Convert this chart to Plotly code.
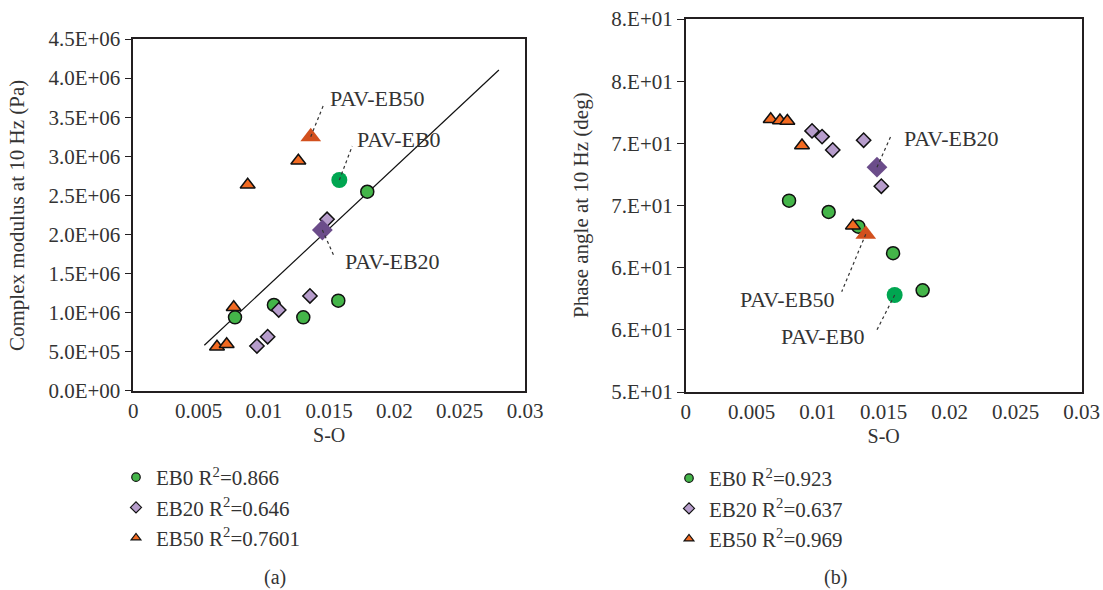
import plotly.graph_objects as go

# ---------------- data: panel (a) complex modulus ----------------
eb0_x_a = [0.00779, 0.01077, 0.01302, 0.01570, 0.01792]
eb0_y_a = [0.939e6, 1.097e6, 0.939e6, 1.152e6, 2.546e6]
eb20_x_a = [0.00947, 0.01029, 0.01114, 0.01353, 0.01484]
eb20_y_a = [0.572e6, 0.691e6, 1.033e6, 1.212e6, 2.193e6]
eb50_x_a = [0.00641, 0.00715, 0.00769, 0.00876, 0.01264]
eb50_y_a = [0.563e6, 0.594e6, 1.067e6, 2.636e6, 2.943e6]
pav_x_a = {"EB0": 0.01578, "EB20": 0.01448, "EB50": 0.01359}
pav_y_a = {"EB0": 2.696e6, "EB20": 2.056e6, "EB50": 3.25e6}
trend_x_a = [0.00544, 0.0280]
trend_y_a = [0.581e6, 4.103e6]

# ---------------- data: panel (b) phase angle ----------------
eb0_x_b = [0.00783, 0.01083, 0.01308, 0.01571, 0.01795]
eb0_y_b = [65.39, 64.48, 63.30, 61.16, 58.18]
eb20_x_b = [0.00957, 0.01033, 0.01114, 0.01348, 0.01482]
eb20_y_b = [71.00, 70.54, 69.47, 70.25, 66.55]
eb50_x_b = [0.00644, 0.00714, 0.00770, 0.00881, 0.01267]
eb50_y_b = [71.94, 71.83, 71.80, 69.82, 63.38]
pav_x_b = {"EB0": 0.01583, "EB20": 0.01449, "EB50": 0.01364}
pav_y_b = {"EB0": 57.80, "EB20": 68.08, "EB50": 62.69}

x_ticks = [0, 0.005, 0.01, 0.015, 0.02, 0.025, 0.03]
x_ticktext = ["0", "0.005", "0.01", "0.015", "0.02", "0.025", "0.03"]
ya_ticks = [0, 0.5e6, 1.0e6, 1.5e6, 2.0e6, 2.5e6, 3.0e6, 3.5e6, 4.0e6, 4.5e6]
ya_ticktext = ["0.0E+00", "5.0E+05", "1.0E+06", "1.5E+06", "2.0E+06",
               "2.5E+06", "3.0E+06", "3.5E+06", "4.0E+06", "4.5E+06"]
yb_ticks = [50, 55, 60, 65, 70, 75, 80]
yb_ticktext = ["5.E+01", "6.E+01", "6.E+01", "7.E+01", "7.E+01", "8.E+01", "8.E+01"]

legend_a = ["EB0 R<sup>2</sup>=0.866", "EB20 R<sup>2</sup>=0.646", "EB50 R<sup>2</sup>=0.7601"]
legend_b = ["EB0 R<sup>2</sup>=0.923", "EB20 R<sup>2</sup>=0.637", "EB50 R<sup>2</sup>=0.969"]

# ---------------- layout helpers (page body margin removed in post_script) ----------------
W, H = 1103, 590

def PX(px):
    return px / W

def PY(py):
    return 1 - py / H

# ---------------- styles ----------------
FONT = "Liberation Serif"
TXT = "#333333"
AX = "#231f20"
FS = 21
C_GREEN = "#44b549"
C_LILAC = "#b79dcc"
C_ORANGE = "#f26a21"
PAV_COL = {"EB0": "#00a651", "EB20": "#6b4c8a", "EB50": "#d2501e"}
PAV_SYM = {"EB0": "circle", "EB20": "diamond", "EB50": "triangle-up"}
PAV_SIZE = {"EB0": 16, "EB20": 16, "EB50": 18}
BASE = [("circle", C_GREEN, 13), ("diamond", C_LILAC, 11), ("triangle-up", C_ORANGE, 13)]

fig = go.Figure()

def add_panel(xs, ys, pav_x, pav_y, xa, ya, names, legend):
    for (sym, col, sz), x, y in zip(BASE, xs, ys):
        fig.add_trace(go.Scatter(x=x, y=y, mode="markers", xaxis=xa, yaxis=ya,
                                 showlegend=False,
                                 marker=dict(symbol=sym, color=col, size=sz,
                                             line=dict(color="#111111", width=1.5))))
    for key in ["EB0", "EB20", "EB50"]:
        fig.add_trace(go.Scatter(x=[pav_x[key]], y=[pav_y[key]], mode="markers",
                                 xaxis=xa, yaxis=ya, showlegend=False,
                                 marker=dict(symbol=PAV_SYM[key], color=PAV_COL[key],
                                             size=PAV_SIZE[key], line=dict(width=0))))
    for (sym, col, sz), nm in zip(BASE, names):
        fig.add_trace(go.Scatter(x=[None], y=[None], mode="markers", xaxis=xa, yaxis=ya,
                                 name=nm, legend=legend, showlegend=True,
                                 marker=dict(symbol=sym, color=col, size=8.5,
                                             line=dict(color="#111111", width=1.2))))

# trend line (a)
fig.add_trace(go.Scatter(x=trend_x_a, y=trend_y_a, mode="lines", xaxis="x", yaxis="y",
                         showlegend=False, line=dict(color="#111111", width=1.2)))

add_panel([eb0_x_a, eb20_x_a, eb50_x_a], [eb0_y_a, eb20_y_a, eb50_y_a],
          pav_x_a, pav_y_a, "x", "y", legend_a, "legend")
add_panel([eb0_x_b, eb20_x_b, eb50_x_b], [eb0_y_b, eb20_y_b, eb50_y_b],
          pav_x_b, pav_y_b, "x2", "y2", legend_b, "legend2")

# leader lines + labels (label anchor positions in data units)
labels_a = [  # key, leader end x, y, text x, y, anchor
    ("EB50", 0.01460, 3.668e6, 0.01491, 3.745e6, "left"),
    ("EB0", 0.01677, 3.131e6, 0.01698, 3.22e6, "left"),
    ("EB20", 0.01540, 1.714e6, 0.01604, 1.659e6, "left"),
]
labels_b = [
    ("EB20", 0.01553, 70.54, 0.01636, 70.41, "left"),
    ("EB50", 0.01182, 58.07, 0.01146, 57.46, "right"),
    ("EB0", 0.01442, 54.85, 0.01373, 54.45, "right"),
]
shapes = []
annotations = []
for labels, px, py, xr, yr in [(labels_a, pav_x_a, pav_y_a, "x", "y"),
                               (labels_b, pav_x_b, pav_y_b, "x2", "y2")]:
    for key, lx, ly, tx, ty, anc in labels:
        shapes.append(dict(type="line", xref=xr, yref=yr, x0=px[key], y0=py[key],
                           x1=lx, y1=ly, line=dict(color="#333333", width=1.2, dash="dot")))
        annotations.append(dict(xref=xr, yref=yr, x=tx, y=ty, text="PAV-" + key,
                                showarrow=False, xanchor=anc, yanchor="middle",
                                font=dict(family=FONT, size=22, color=TXT)))

# captions and y-axis titles
annotations += [
    dict(xref="paper", yref="paper", x=PX(275), y=PY(577), text="(a)",
         showarrow=False, xanchor="center", yanchor="middle",
         font=dict(family=FONT, size=20, color=TXT)),
    dict(xref="paper", yref="paper", x=PX(835), y=PY(577), text="(b)",
         showarrow=False, xanchor="center", yanchor="middle",
         font=dict(family=FONT, size=20, color=TXT)),
    dict(xref="paper", yref="paper", x=PX(17), y=PY(216),
         text="Complex modulus at 10 Hz (Pa)", textangle=-90, showarrow=False,
         xanchor="center", yanchor="middle", font=dict(family=FONT, size=21, color=TXT)),
    dict(xref="paper", yref="paper", x=PX(581), y=PY(205),
         text="Phase angle at 10 Hz (deg)", textangle=-90, showarrow=False,
         xanchor="center", yanchor="middle", font=dict(family=FONT, size=21, color=TXT)),
]

axis_common = dict(showline=True, linecolor=AX, linewidth=1.5, mirror=True,
                   showgrid=False, zeroline=False,
                   tickfont=dict(family=FONT, size=FS, color=TXT),
                   title_font=dict(family=FONT, size=20, color=TXT))

fig.update_layout(
    width=W, height=H,
    margin=dict(l=0, r=0, t=0, b=0, autoexpand=False),
    paper_bgcolor="white", plot_bgcolor="white",
    font=dict(family=FONT, size=FS, color=TXT),
    xaxis=dict(domain=[PX(133.3), PX(525)], range=[0, 0.03], tickvals=x_ticks,
               ticktext=x_ticktext, ticks="", anchor="y",
               title=dict(text="S-O", standoff=6), **axis_common),
    yaxis=dict(domain=[PY(390.7), PY(39)], range=[0, 4.5e6], tickvals=ya_ticks,
               ticktext=ya_ticktext, ticks="outside", ticklen=7, tickcolor=AX, anchor="x",
               ticklabeloverflow="allow", **axis_common),
    xaxis2=dict(domain=[PX(685.7), PX(1081.7)], range=[0, 0.03], tickvals=x_ticks,
                ticktext=x_ticktext, ticks="", anchor="y2",
                ticklabeloverflow="allow",
                title=dict(text="S-O", standoff=6), **axis_common),
    yaxis2=dict(domain=[PY(392), PY(19)], range=[50, 80], tickvals=yb_ticks,
                ticktext=yb_ticktext, ticks="outside", ticklen=7, tickcolor=AX, anchor="x2",
                ticklabeloverflow="allow", **axis_common),
    legend=dict(x=PX(116), y=PY(457), xanchor="left", yanchor="top",
                bgcolor="rgba(0,0,0,0)", font=dict(family=FONT, size=FS, color=TXT),
                tracegroupgap=0),
    legend2=dict(x=PX(669), y=PY(458), xanchor="left", yanchor="top",
                 bgcolor="rgba(0,0,0,0)", font=dict(family=FONT, size=FS, color=TXT),
                 tracegroupgap=0),
    shapes=shapes,
    annotations=annotations,
)

fig.write_html("out.html", config={"displayModeBar": False},
               post_script="document.body.style.margin='0';document.body.style.overflow='hidden';")
